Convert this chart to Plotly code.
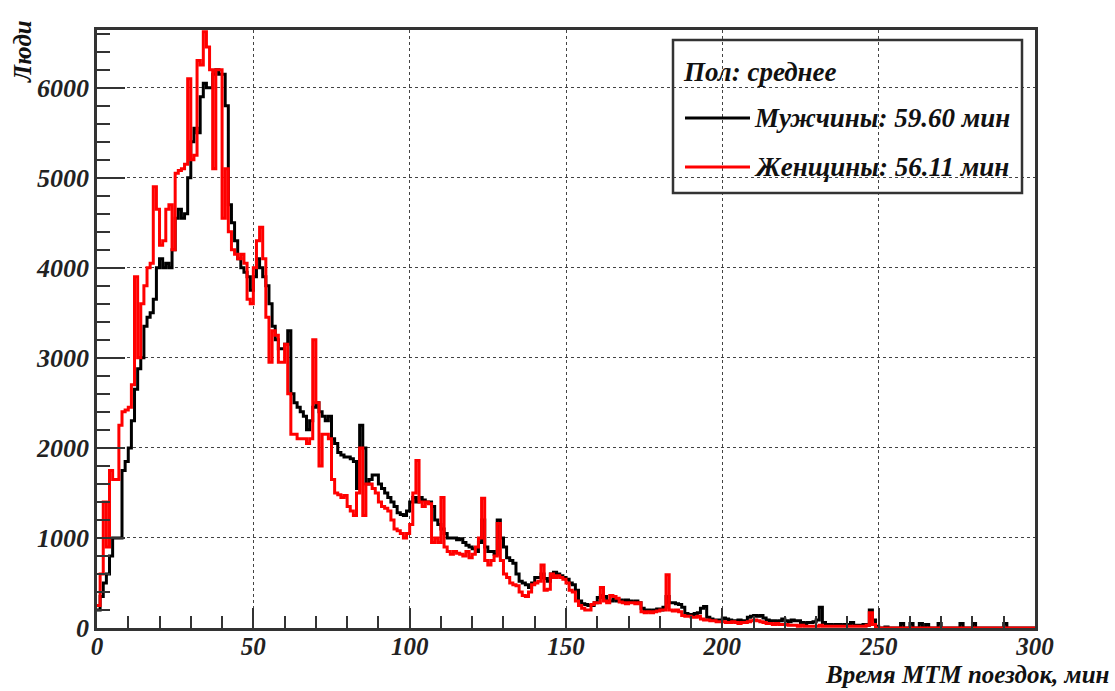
import plotly.graph_objects as go

# Histogram of trip durations, 1-minute bins from 0 to 300 min
bin_width = 1
x_max = 300

men = [
    200, 350, 500, 600, 800, 1000, 1000, 1000, 1750, 1850,
    2000, 2300, 2650, 2880, 3000, 3350, 3450, 3500, 3650, 4000,
    4100, 4000, 4050, 4000, 4200, 4550, 4650, 4550, 4600, 5000,
    5400, 5550, 5500, 5900, 6050, 6000, 6000, 6150, 6200, 6150,
    6150, 5800, 4700, 4500, 4300, 4100, 4000, 3950, 3900, 3750,
    3900, 4100, 4000, 3900, 3800, 3600, 3350, 3200, 3100, 3100,
    3150, 3300, 2600, 2500, 2450, 2400, 2350, 2200, 2300, 2450,
    2500, 2400, 2350, 2300, 2350, 2100, 2050, 1950, 1920, 1900,
    1900, 1880, 1850, 1550, 2250, 2000, 1600, 1650, 1700, 1700,
    1600, 1550, 1500, 1450, 1400, 1350, 1280, 1260, 1250, 1300,
    1400, 1450, 1400, 1450, 1420, 1400, 1400, 1350, 1200, 1150,
    1100, 1050, 1000, 1000, 1000, 980, 990, 950, 920, 900,
    880, 850, 950, 1200, 900, 850, 850, 820, 1200, 1000,
    900, 780, 750, 720, 600, 520, 500, 480, 450, 500,
    560, 560, 600, 550, 520, 600, 620, 600, 580, 560,
    540, 500, 480, 420, 300, 270, 260, 250, 250, 280,
    340, 360, 350, 300, 300, 320, 300, 310, 300, 310,
    300, 290, 300, 280, 220, 200, 200, 190, 200, 210,
    200, 230, 350, 280, 280, 270, 260, 230, 160, 150,
    150, 160, 170, 220, 240, 120, 100, 90, 90, 90,
    110, 100, 90, 80, 80, 90, 80, 80, 120, 130,
    140, 130, 140, 110, 90, 80, 80, 70, 80, 100,
    80, 70, 90, 80, 80, 60, 50, 60, 60, 70,
    90, 230, 60, 40, 40, 30, 40, 40, 30, 40,
    30, 60, 30, 30, 30, 40, 30, 200, 90, 20,
    0, 0, 10, 0, 0, 0, 0, 50, 0, 0,
    50, 0, 0, 50, 0, 40, 0, 0, 0, 50,
    0, 0, 0, 0, 0, 0, 50, 0, 0, 0,
    50, 0, 0, 0, 0, 0, 0, 0, 0, 0,
    50, 0, 0, 0, 0, 0, 0, 0, 0, 0,
]

women = [
    250, 600, 1400, 900, 1750, 1650, 1650, 2250, 2400, 2420,
    2450, 2700, 3900, 3000, 3600, 3800, 4000, 4050, 4900, 4650,
    4250, 4300, 4650, 4700, 4200, 5050, 5080, 5100, 5150, 6100,
    5200, 5250, 6300, 6250, 6620, 6450, 6200, 5100, 6200, 6200,
    4550, 5100, 4400, 4200, 4150, 4100, 4150, 4050, 3650, 3600,
    4000, 4300, 4450, 4100, 3450, 2950, 3300, 3250, 2950, 2950,
    3150, 2600, 2150, 2150, 2100, 2100, 2100, 2050, 2100, 3200,
    2500, 1800, 2150, 2150, 2100, 1650, 1500, 1480, 1450, 1470,
    1350, 1300, 1250, 1500, 2000, 1250, 1600, 1600, 1550, 1500,
    1400, 1350, 1330, 1300, 1200, 1100, 1080, 1050, 1000, 1050,
    1150, 1500, 1860, 1400, 1350, 1400, 1380, 950, 1000, 950,
    1450, 900, 850, 820, 850, 830, 820, 800, 850, 780,
    820, 900, 1000, 1440, 750, 700, 750, 800, 1160, 750,
    600, 560, 500, 480, 470, 400, 360, 350, 400, 480,
    500, 520, 700, 420, 430, 600, 560, 580, 560, 540,
    500, 420, 400, 300, 250, 220, 200, 200, 260, 280,
    280, 450, 300, 280, 360, 350, 330, 290, 280, 270,
    280, 280, 270, 280, 180, 170, 180, 170, 180, 190,
    200, 200, 590, 200, 190, 200, 180, 140, 130, 130,
    120, 120, 130, 100, 90, 90, 80, 80, 70, 70,
    70, 60, 60, 70, 60, 50, 60, 60, 70, 80,
    90, 80, 70, 60, 50, 50, 40, 50, 40, 40,
    40, 30, 30, 30, 20, 30, 20, 20, 20, 20,
    20, 30, 20, 20, 20, 20, 20, 20, 20, 20,
    20, 20, 20, 20, 20, 20, 30, 170, 40, 0,
    0, 0, 0, 0, 0, 0, 0, 0, 0, 0,
    0, 0, 0, 0, 0, 0, 0, 0, 0, 0,
    0, 0, 0, 0, 0, 0, 0, 0, 0, 0,
    0, 0, 0, 0, 0, 0, 0, 0, 0, 0,
    0, 0, 0, 0, 0, 0, 0, 0, 0, 0,
]

series_names = ["Мужчины: 59.60 мин", "Женщины: 56.11 мин"]
legend_header = "Пол: среднее"
x_title = "Время МТМ поездок, мин"
y_title = "Люди"
x_ticks = [0, 50, 100, 150, 200, 250, 300]
y_ticks = [0, 1000, 2000, 3000, 4000, 5000, 6000]

W, H = 1115, 691
L, R, T, B = 97, 80, 30, 63
PW, PH = W - L - R, H - T - B

def px(xp):
    return (xp - L) / PW

def py(yp):
    return (H - B - yp) / PH

FONT = "Liberation Serif"

def step_xy(vals):
    xs = [i * bin_width for i in range(len(vals))] + [len(vals) * bin_width]
    ys = list(vals) + [vals[-1]]
    return xs, ys

fig = go.Figure()
for vals, color, name in [(men, "#000000", series_names[0]), (women, "#ff0000", series_names[1])]:
    xs, ys = step_xy(vals)
    fig.add_trace(go.Scatter(x=xs, y=ys, mode="lines", line=dict(color=color, width=3, shape="hv"),
                             name=name, showlegend=False))

axis_common = dict(showline=True, linecolor="#333333", linewidth=2.5, mirror=True,
                   ticks="inside", tickcolor="#333333", tickwidth=2,
                   showgrid=True, gridcolor="#444444", gridwidth=1.4, griddash="dot",
                   zeroline=False)

fig.update_layout(
    width=W, height=H,
    margin=dict(l=L, r=R, t=T, b=B),
    paper_bgcolor="white", plot_bgcolor="white",
    xaxis=dict(range=[0, x_max], tickvals=x_ticks, ticklen=20, ticklabelstandoff=-6,
               tickfont=dict(family=FONT, size=25, color="#222222", weight="bold", style="italic"),
               minor=dict(dtick=10, ticklen=12, ticks="inside", tickcolor="#333333", tickwidth=2, showgrid=False),
               **axis_common),
    yaxis=dict(range=[0, 6640], tickvals=y_ticks, ticklen=28,
               tickfont=dict(family=FONT, size=26, color="#222222", weight="bold", style="italic"),
               minor=dict(dtick=200, ticklen=13, ticks="inside", tickcolor="#333333", tickwidth=2, showgrid=False),
               **axis_common),
    showlegend=False,
)

textfont = dict(family=FONT, size=27, color="#111111", weight="bold", style="italic")

# axis titles
fig.add_annotation(text=y_title, xref="paper", yref="paper", x=px(23), y=py(52),
                   textangle=-90, showarrow=False, xanchor="center", yanchor="middle",
                   font=dict(family=FONT, size=25, color="#111111", weight="bold", style="italic"))
fig.add_annotation(text=x_title, xref="paper", yref="paper", x=px(1112), y=py(674),
                   showarrow=False, xanchor="right", yanchor="middle",
                   font=dict(family=FONT, size=25, color="#111111", weight="bold", style="italic"))

# legend box
fig.add_shape(type="rect", xref="paper", yref="paper", x0=px(673), x1=px(1022), y0=py(193), y1=py(40),
              line=dict(color="#333333", width=2.5))
fig.add_annotation(text=legend_header, xref="paper", yref="paper", x=px(681), y=py(72),
                   showarrow=False, xanchor="left", yanchor="middle", font=textfont)
for (yp, color, name) in [(118, "#000000", series_names[0]), (167, "#ff0000", series_names[1])]:
    fig.add_shape(type="line", xref="paper", yref="paper", x0=px(685), x1=px(750), y0=py(yp), y1=py(yp),
                  line=dict(color=color, width=3))
    fig.add_annotation(text=name, xref="paper", yref="paper", x=px(752), y=py(yp),
                       showarrow=False, xanchor="left", yanchor="middle", font=textfont)

fig.write_html("out.html")
